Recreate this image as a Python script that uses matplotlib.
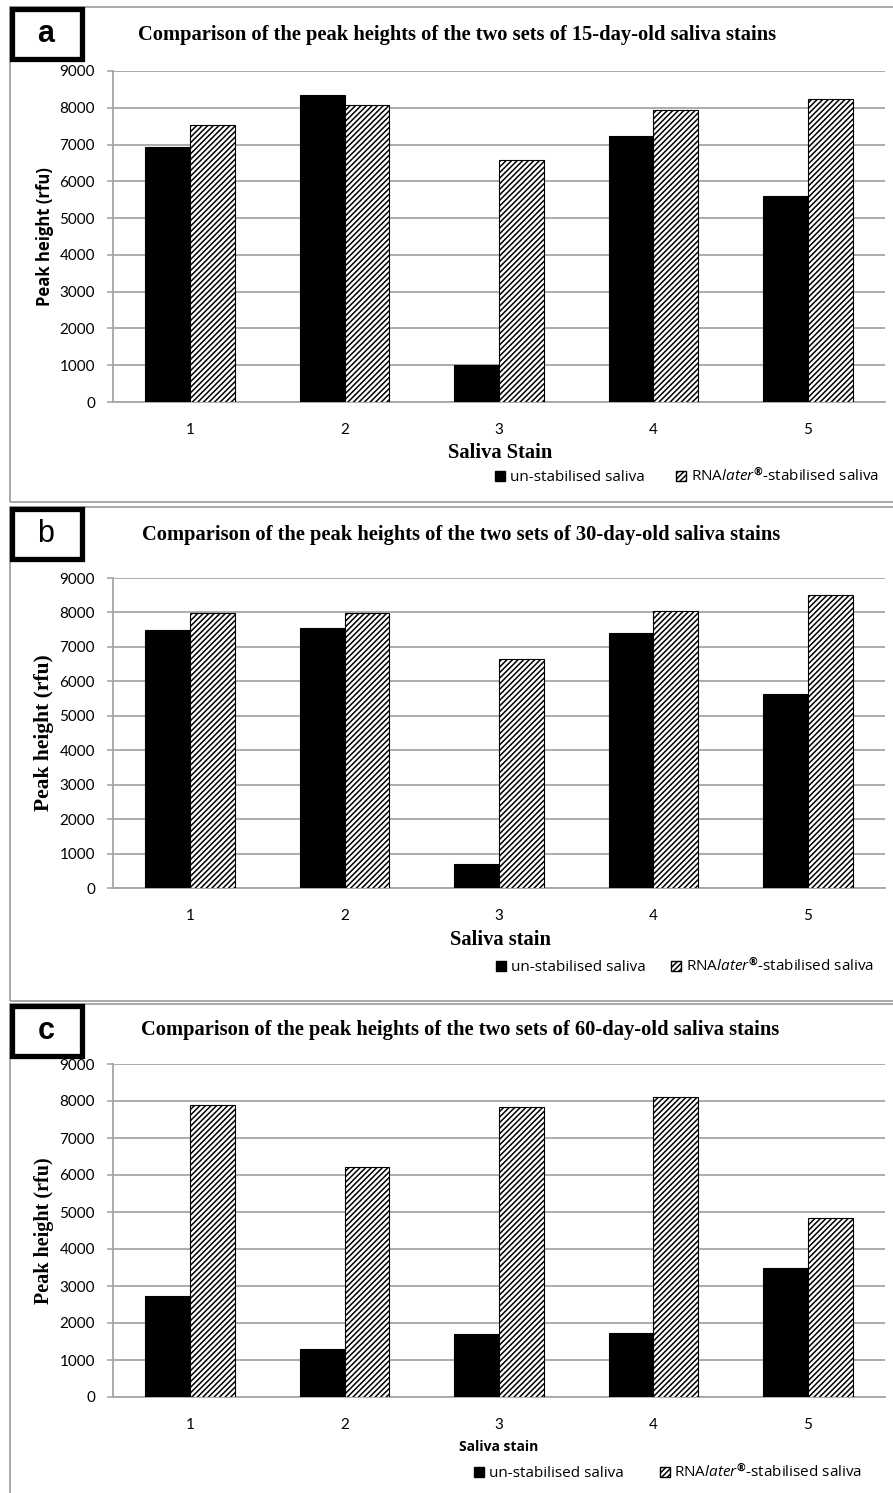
import numpy as np
import matplotlib
matplotlib.use('Agg')
import matplotlib.pyplot as plt
from matplotlib.patches import Rectangle, Patch

# peak heights (rfu)
stains = [1, 2, 3, 4, 5]
unstab_15 = [6930, 8360, 1000, 7240, 5600]
rnal_15 = [7530, 8070, 6590, 7930, 8240]
unstab_30 = [7480, 7560, 700, 7400, 5640]
rnal_30 = [7980, 7980, 6660, 8050, 8520]
unstab_60 = [2720, 1300, 1690, 1720, 3480]
rnal_60 = [7880, 6220, 7850, 8100, 4850]
yticks = list(range(0, 9001, 1000))

titles = ['Comparison of the peak heights of the two sets of 15-day-old saliva stains',
          'Comparison of the peak heights of the two sets of 30-day-old saliva stains',
          'Comparison of the peak heights of the two sets of 60-day-old saliva stains']
xlabels = ['Saliva Stain', 'Saliva stain', 'Saliva stain']
panel_letters = ['a', 'b', 'c']

plt.rcParams['mathtext.fontset'] = 'custom'
plt.rcParams['mathtext.rm'] = 'Open Sans'
plt.rcParams['mathtext.it'] = 'Open Sans:italic'
plt.rcParams['mathtext.bf'] = 'Open Sans:bold'
plt.rcParams['hatch.linewidth'] = 1.1

W, H = 893, 1493
fig = plt.figure(figsize=(W / 100, H / 100), dpi=100)


def fx(x):
    return x / W


def fy(y):
    return 1 - y / H


# pixel layout of each panel
panels = [
    dict(box=(7, 502), ax=(71, 402), title=(457, 35), xlab=(500, 453), leg=(495, 476), colsp=2.1),
    dict(box=(507, 1001), ax=(578, 888), title=(461, 535), xlab=(500, 940), leg=(496, 966), colsp=1.7),
    dict(box=(1004, 1500), ax=(1064, 1397), title=(460, 1030), xlab=(499, 1447), leg=(474, 1472), colsp=2.4),
]
data = [(unstab_15, rnal_15), (unstab_30, rnal_30), (unstab_60, rnal_60)]

grey = '#a6a6a6'
w = 0.29
x = np.array(stains)

for i, p in enumerate(panels):
    # outer panel frame
    top, bot = p['box']
    fig.add_artist(Rectangle((fx(10), fy(bot)), fx(900) - fx(10), (bot - top) / H,
                             transform=fig.transFigure, facecolor='none',
                             edgecolor='#9a9a9a', lw=1.2))

    at, ab = p['ax']
    ax = fig.add_axes([fx(113), fy(ab), fx(885) - fx(113), (ab - at) / H])
    un, rn = data[i]
    ax.bar(x - w / 2, un, width=w, color='black', edgecolor='black', linewidth=0.8, zorder=3)
    ax.bar(x + w / 2, rn, width=w, color='white', edgecolor='black', hatch='//////',
           linewidth=0.8, zorder=3)

    ax.set_xlim(0.5, 5.5)
    ax.set_ylim(0, 9000)
    ax.set_yticks(yticks)
    ax.set_xticks(stains)
    ax.grid(axis='y', color=grey, lw=1.3, zorder=0)
    for s in ['top', 'right']:
        ax.spines[s].set_visible(False)
    for s in ['left', 'bottom']:
        ax.spines[s].set_color(grey)
        ax.spines[s].set_linewidth(1.3)
    ax.tick_params(axis='y', length=4, color=grey, width=1.2, pad=9, labelsize=11)
    ax.tick_params(axis='x', length=0, pad=15, labelsize=11)
    for lab in ax.get_xticklabels() + ax.get_yticklabels():
        lab.set_family('Lato')

    if i == 0:
        ax.set_ylabel('Peak height (rfu)', family='Open Sans', fontweight='bold', fontsize=12)
    elif i == 1:
        ax.set_ylabel('Peak height (rfu)', family='Liberation Serif', fontweight='bold', fontsize=15.5)
    else:
        ax.set_ylabel('Peak height (rfu)', family='Liberation Serif', fontweight='bold', fontsize=14.5)
    ax.yaxis.set_label_coords((54 - 113) / (885 - 113), 0.5)

    # titles and axis titles
    tx, ty = p['title']
    fig.text(fx(tx), fy(ty), titles[i], family='Liberation Serif', fontweight='bold',
             fontsize=14.8, ha='center', va='center')
    lx, ly = p['xlab']
    if i < 2:
        fig.text(fx(lx), fy(ly), xlabels[i], family='Liberation Serif', fontweight='bold',
                 fontsize=14.8, ha='center', va='center')
    else:
        fig.text(fx(lx), fy(ly), xlabels[i], family='Open Sans', fontweight='bold',
                 fontsize=10, ha='center', va='center')

    # panel letter box
    fig.add_artist(Rectangle((fx(12), fy(top + 52)), fx(82) - fx(12), 50 / H,
                             transform=fig.transFigure, facecolor='white',
                             edgecolor='black', lw=3.8, zorder=5))
    fig.text(fx(46), fy(top + 27), panel_letters[i], family='Liberation Sans',
             fontweight='bold' if i != 1 else 'normal', fontsize=22,
             ha='center', va='center', zorder=6)

    # legend
    handles = [Patch(facecolor='black', edgecolor='black'),
               Patch(facecolor='white', edgecolor='black', hatch='//////')]
    labels = ['un-stabilised saliva', 'RNA$\\mathit{later}^{\\mathbf{®}}$-stabilised saliva']
    gx, gy = p['leg']
    fig.legend(handles, labels, loc='center left', bbox_to_anchor=(fx(gx), fy(gy)),
               ncol=2, frameon=False, handlelength=0.65, handleheight=0.65,
               handletextpad=0.3, columnspacing=p['colsp'], borderpad=0, borderaxespad=0,
               prop={'family': 'Open Sans', 'size': 11})

fig.savefig('out.png', dpi=100)
